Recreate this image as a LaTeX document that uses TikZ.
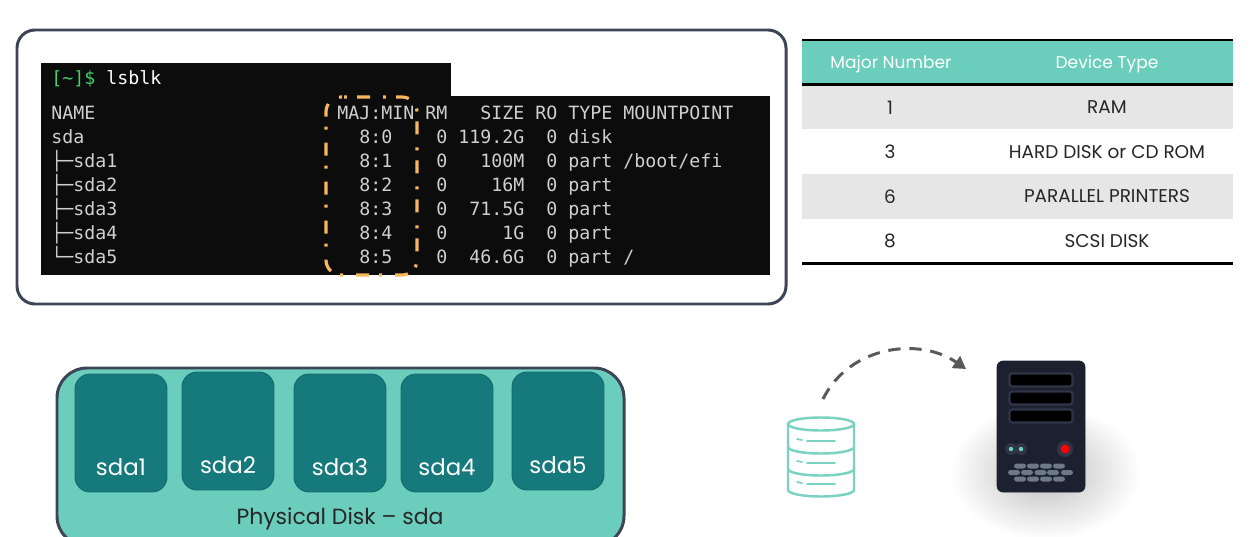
\documentclass[tikz,border=0pt]{standalone}
\usepackage{fontspec}
\setmainfont{Poppins}
\setmonofont{DejaVu Sans Mono}
\usetikzlibrary{positioning}
\usetikzlibrary{arrows.meta}

\definecolor{tealbar}{HTML}{6BCDBB}
\definecolor{tealdark}{HTML}{167A7D}
\definecolor{tealedge}{HTML}{12686B}
\definecolor{slateline}{HTML}{3C4456}
\definecolor{termblack}{HTML}{0C0C0C}
\definecolor{termtext}{HTML}{CFCFCF}
\definecolor{termgreen}{HTML}{3FD16B}
\definecolor{dashorange}{HTML}{F5B85C}
\definecolor{rowgrey}{HTML}{E6E6E6}
\definecolor{srvbody}{HTML}{1C2130}
\definecolor{srvpart}{HTML}{2F3547}
\definecolor{srvkey}{HTML}{6D7A85}

\tikzset{
    termrow/.style={anchor=base west,inner sep=0pt,text=termtext,
        font=\ttfamily\fontsize{10.4pt}{12pt}\selectfont},
    headtxt/.style={text=white,inner sep=0pt,font=\fontsize{9.7pt}{12pt}\selectfont},
    celltxt/.style={text=black!85,inner sep=0pt,font=\fontsize{10.5pt}{12pt}\selectfont},
    partbox/.style={rectangle,draw=tealedge,fill=tealdark,line width=0.5pt,
        rounded corners=0.3cm,minimum width=1.84cm,minimum height=2.36cm},
    parttxt/.style={text=white,inner sep=0pt,font=\fontsize{13pt}{15pt}\selectfont},
    dbline/.style={draw=tealbar!90,line width=1.4pt,line cap=round},
    slotbox/.style={rectangle,draw=srvpart,fill=black,line width=1.3pt,
        rounded corners=1.5pt,minimum width=1.26cm,minimum height=0.26cm},
    srvkeycap/.style={rectangle,fill=srvkey,rounded corners=1.5pt,
        minimum width=0.24cm,minimum height=0.1cm,inner sep=0pt},
}

\newcommand{\padA}{~~~~~~~~~~~~~~~~~~~~~~}

\begin{document}
\begin{tikzpicture}[x=0.02cm,y=-0.02cm]
        \clip (0,0) rectangle (1254,537);
        \fill[white] (0,0) rectangle (1254,537);

        % terminal window
        \draw[slateline,line width=1.7pt,fill=white,rounded corners=0.36cm]
            (17,30) rectangle (786,304);
        \fill[termblack] (41,63) rectangle (451,97);
        \fill[termblack] (41,96) rectangle (770,275);

        \node[termrow] (prompt) at (51,85) {\textcolor{termgreen}{[\textasciitilde]\$}~\textcolor{white}{lsblk}};
        \node[termrow] (rowhead) at (51,119.5) {NAME~~~~~~~~~~~~~~~~~~~~~~MAJ:MIN RM~~~SIZE RO TYPE MOUNTPOINT};
        \node[termrow] (rowsda) at (51,143.5) {sda~~~\padA{}8:0~~~~0 119.2G~~0 disk};
        \node[termrow] (rowone) at (51,167.5) {├─sda1\padA{}8:1~~~~0~~~100M~~0 part /boot/efi};
        \node[termrow] (rowtwo) at (51,191.5) {├─sda2\padA{}8:2~~~~0~~~~16M~~0 part};
        \node[termrow] (rowthree) at (51,215.5) {├─sda3\padA{}8:3~~~~0~~71.5G~~0 part};
        \node[termrow] (rowfour) at (51,239.5) {├─sda4\padA{}8:4~~~~0~~~~~1G~~0 part};
        \node[termrow] (rowfive) at (51,263.5) {└─sda5\padA{}8:5~~~~0~~46.6G~~0 part /};

        % highlight on the MAJ:MIN column
        \draw[dashorange,line width=1.8pt,rounded corners=0.3cm,
            dash pattern=on 1.7pt off 5.7pt on 7.4pt off 7.4pt]
            (344,97) -- (417,97) -- (417,275) -- (326,275) -- (326,97) -- (344,97);

        % device table
        \fill[tealbar] (802,40) rectangle (1233,84);
        \fill[rowgrey] (802,85) rectangle (1233,129);
        \fill[rowgrey] (802,174) rectangle (1233,219);
        \draw[black,line width=1.7pt] (802,40) -- (1233,40);
        \draw[black,line width=1.7pt] (802,84.5) -- (1233,84.5);
        \draw[black,line width=1.7pt] (802,263.5) -- (1233,263.5);

        \node[headtxt] (headnum) at (891,64) {Major Number};
        \node[headtxt] (headdev) at (1107,64) {Device Type};
        \foreach \ypos/\num/\dev in {107.5/1/RAM,152/3/HARD DISK or CD ROM,
            196.5/6/PARALLEL PRINTERS,241/8/SCSI DISK} {
            \node[celltxt] (num\num) at (890,\ypos) {\num};
            \node[celltxt] (dev\num) at (1107,\ypos) {\dev};
        }

        % physical disk
        \draw[slateline,fill=tealbar,line width=1.7pt,rounded corners=0.6cm]
            (57,368) rectangle (624,546);
        \foreach \xpos/\ypos/\ytxt/\lab in {121/433/467/sda1,228/431/465/sda2,
            340/433/467/sda3,447/433/467/sda4,558/431/465/sda5} {
            \node[partbox] (\lab) at (\xpos,\ypos) {};
            \node[parttxt] (\lab txt) at (\xpos,\ytxt) {\lab};
        }
        \node[inner sep=0pt,text=black!85,font=\fontsize{12.5pt}{15pt}\selectfont]
            (disklabel) at (340,519) {Physical Disk – sda};

        % database icon
        \draw[dbline] (788,424) -- (788,490) arc[start angle=180,end angle=0,x radius=33,y radius=6.5] -- (854,424);
        \draw[dbline] (821,424) ellipse[x radius=33,y radius=6.5];
        \draw[dbline] (788,447) arc[start angle=180,end angle=0,x radius=33,y radius=6.5];
        \draw[dbline] (788,469) arc[start angle=180,end angle=0,x radius=33,y radius=6.5];
        \foreach \ypos in {440,462,483} {
            \draw[tealbar!90,line width=1pt,line cap=round] (797,\ypos-1) -- (802,\ypos);
            \draw[tealbar!90,line width=1pt,line cap=round] (807,\ypos+1) -- (835,\ypos+1);
        }

        % server
        \shade[inner color=black!26,outer color=white] (1045,472) ellipse[x radius=95,y radius=68];
        \draw[srvbody,fill=srvbody,rounded corners=0.12cm] (997,361) rectangle (1085,492);
        \foreach \ypos/\nm in {380/a,398/b,416/c} {
            \node[slotbox] (slot\nm) at (1041,\ypos) {};
        }
        \foreach \xpos/\nm in {1011/a,1021/b} {
            \fill[srvpart] (\xpos,449) circle[radius=6];
            \fill[tealbar] (\xpos,449) circle[radius=2.2];
        }
        \fill[srvpart] (1065,449) circle[radius=8];
        \fill[red] (1065,449) circle[radius=4.5];
        \foreach \xpos in {1020,1033,1046,1059} {
            \node[srvkeycap] at (\xpos,466) {};
        }
        \foreach \xpos in {1014,1027,1040.5,1053,1067} {
            \node[srvkeycap] at (\xpos,472.5) {};
        }
        \foreach \xpos in {1020,1033,1046,1059} {
            \node[srvkeycap] at (\xpos,479) {};
        }

        % arc from the disk to the server
        \coordinate (arcstart) at (823,399);
        \coordinate (arcend) at (966,369);
        \draw[black!65,line width=1.7pt,dash pattern=on 7pt off 5pt,
            -{Triangle[length=7pt,width=8pt]}]
            (arcstart) .. controls (850,345) and (920,337) .. (arcend);

    \end{tikzpicture}
\end{document}
